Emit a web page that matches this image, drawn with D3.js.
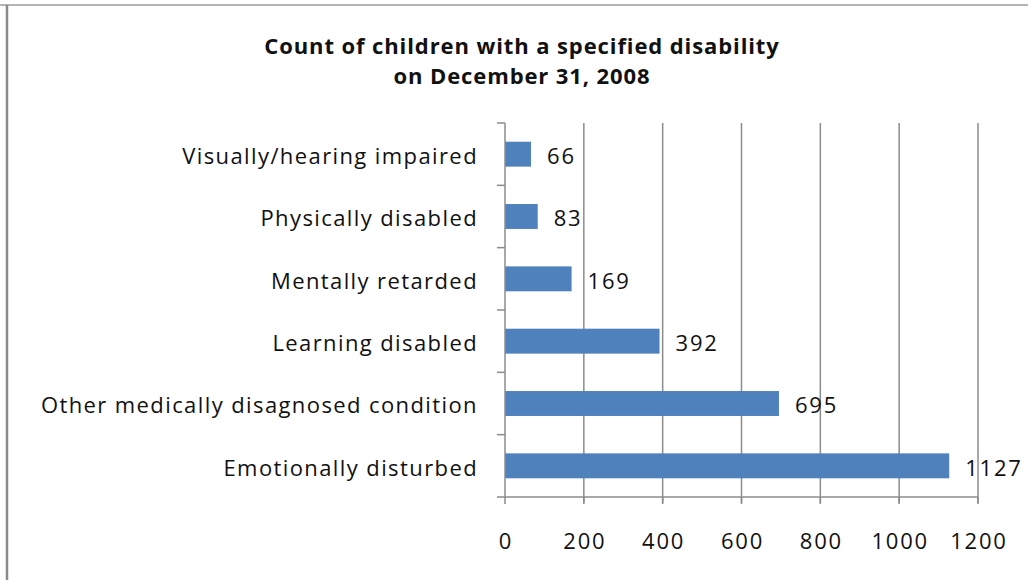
<!DOCTYPE html>
<html>
<head>
<meta charset="utf-8">
<script src="https://cdn.jsdelivr.net/npm/d3@7"></script>
<style>
  body { margin: 0; background: #fff; }
  svg { display: block; }
  .grid line { stroke: #8c8c8c; stroke-width: 1.5; }
  text { font-family: "Open Sans", "Liberation Sans", sans-serif; fill: #111; }
</style>
</head>
<body>
<svg id="chart" width="1028" height="580"></svg>
<script>
// Chart data
const categories = ["Visually/hearing impaired", "Physically disabled", "Mentally retarded",
  "Learning disabled", "Other medically disagnosed condition", "Emotionally disturbed"];
const counts = [66, 83, 169, 392, 695, 1127];
const xTicks = [0, 200, 400, 600, 800, 1000, 1200];
const titleLines = ["Count of children with a specified disability", "on December 31, 2008"];

const width = 1028, height = 580;
const plot = {left: 505, right: 978, top: 123, bottom: 497};
const svg = d3.select("#chart");

// frame around the chart
svg.append("line").attr("x1", 0).attr("x2", width).attr("y1", 5).attr("y2", 5)
  .attr("stroke", "#b4b4b4").attr("stroke-width", 2);
svg.append("line").attr("x1", 7).attr("x2", 7).attr("y1", 5).attr("y2", height)
  .attr("stroke", "#8a8a8a").attr("stroke-width", 2.5);

const x = d3.scaleLinear().domain([0, 1200]).range([plot.left, plot.right]);
const y = d3.scaleBand().domain(categories).range([plot.top, plot.bottom]).paddingInner(0.6).paddingOuter(0.3);

// vertical gridlines
svg.append("g").attr("class", "grid")
  .selectAll("line").data(xTicks.slice(1)).join("line")
  .attr("x1", d => x(d)).attr("x2", d => x(d))
  .attr("y1", plot.top).attr("y2", plot.bottom + 6);

// bars
svg.append("g").selectAll("rect").data(counts).join("rect")
  .attr("x", x(0))
  .attr("y", (d, i) => y(categories[i]))
  .attr("width", d => x(d) - x(0))
  .attr("height", y.bandwidth())
  .attr("fill", "#4f81bd");

// value labels
svg.append("g").selectAll("text").data(counts).join("text")
  .attr("x", d => x(d) + 16)
  .attr("y", (d, i) => y(categories[i]) + y.bandwidth() / 2 + 2)
  .attr("dy", "0.36em")
  .attr("font-size", 22)
  .attr("letter-spacing", 1.8)
  .text(d => d);

// category axis with ticks at band boundaries
const step = (plot.bottom - plot.top) / categories.length;
const axisG = svg.append("g");
axisG.append("line").attr("x1", plot.left).attr("x2", plot.left)
  .attr("y1", plot.top).attr("y2", plot.bottom).attr("stroke", "#8c8c8c").attr("stroke-width", 1.5);
axisG.selectAll("line.tick").data(d3.range(categories.length + 1)).join("line")
  .attr("class", "tick")
  .attr("x1", plot.left - 8).attr("x2", plot.left)
  .attr("y1", i => plot.top + i * step).attr("y2", i => plot.top + i * step)
  .attr("stroke", "#8c8c8c").attr("stroke-width", 1.5);
axisG.selectAll("text").data(categories).join("text")
  .attr("x", plot.left - 27)
  .attr("y", d => y(d) + y.bandwidth() / 2 + 2)
  .attr("dy", "0.36em")
  .attr("text-anchor", "end")
  .attr("font-size", 22)
  .attr("letter-spacing", 1.4)
  .text(d => d);

// value axis
const xAxisG = svg.append("g");
xAxisG.append("line").attr("x1", plot.left).attr("x2", plot.right)
  .attr("y1", plot.bottom).attr("y2", plot.bottom).attr("stroke", "#8c8c8c").attr("stroke-width", 1.5);
xAxisG.selectAll("line.tick").data(xTicks).join("line")
  .attr("class", "tick")
  .attr("x1", d => x(d)).attr("x2", d => x(d))
  .attr("y1", plot.bottom).attr("y2", plot.bottom + 7)
  .attr("stroke", "#8c8c8c").attr("stroke-width", 1.5);
xAxisG.selectAll("text").data(xTicks).join("text")
  .attr("x", d => x(d) + 1)
  .attr("y", 541)
  .attr("dy", "0.36em")
  .attr("text-anchor", "middle")
  .attr("font-size", 22)
  .attr("letter-spacing", 1.8)
  .text(d => d);

// title
svg.append("g").selectAll("text").data(titleLines).join("text")
  .attr("x", 522)
  .attr("y", (d, i) => 46 + i * 30)
  .attr("dy", "0.36em")
  .attr("text-anchor", "middle")
  .attr("font-size", 22)
  .attr("font-weight", "bold")
  .attr("letter-spacing", 0.9)
  .text(d => d);
</script>
</body>
</html>
